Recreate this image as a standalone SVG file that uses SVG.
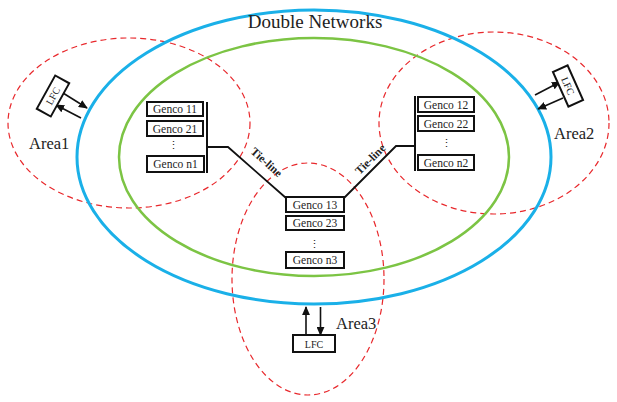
<svg xmlns="http://www.w3.org/2000/svg" width="617" height="402" viewBox="0 0 617 402">
<defs>
<marker id="ah" viewBox="0 0 10 10" refX="9" refY="5" markerWidth="9" markerHeight="8" preserveAspectRatio="none" orient="auto" markerUnits="userSpaceOnUse">
<path d="M0,0 L10,5 L0,10 z" fill="#111"/>
</marker>
</defs>
<style>
.t{font-family:"Liberation Serif","Times New Roman",serif;fill:#222}
.g{font-size:11.5px;text-anchor:middle}
.box{fill:#fff;stroke:#111;stroke-width:2}
.bar{stroke:#111;stroke-width:2;fill:none}
.line{stroke:#111;stroke-width:1.8;fill:none}
.arr{stroke:#111;stroke-width:1.6;fill:none;marker-end:url(#ah)}
.area{fill:none;stroke:#e8282c;stroke-width:1.2;stroke-dasharray:6,4}
.dots{font-size:11px;text-anchor:middle}
.tie{font-size:11.5px;font-weight:bold;text-anchor:middle}
</style>
<rect width="617" height="402" fill="#fff"/>
<g id="areas">
<ellipse id="area1-ring" cx="129" cy="123" rx="121" ry="85" class="area"/>
<ellipse id="area2-ring" cx="494" cy="123" rx="115" ry="91" class="area"/>
<ellipse id="area3-ring" cx="308" cy="279" rx="76" ry="116" class="area"/>
</g>
<g id="double-networks">
<ellipse cx="314" cy="157" rx="237" ry="147" fill="none" stroke="#1ab0e8" stroke-width="3"/>
<ellipse cx="314" cy="157" rx="195" ry="119" fill="none" stroke="#7cc444" stroke-width="2.5"/>
<text class="t" font-family="Liberation Serif, serif" x="315" y="28" font-size="19" text-anchor="middle">Double Networks</text>
</g>
<g id="connectors">
<polyline class="line" points="207,147 228,147 286,198"/>
<polyline class="line" points="344,198 396,146 415,146"/>
<line class="bar" x1="207" y1="102" x2="207" y2="173"/>
<line class="bar" x1="415" y1="96" x2="415" y2="171"/>
<line class="arr" x1="63" y1="93" x2="87" y2="108"/>
<line class="arr" x1="81" y1="118" x2="56" y2="105"/>
<line class="arr" x1="535" y1="95" x2="560" y2="82"/>
<line class="arr" x1="563" y1="98" x2="538" y2="109"/>
<line class="arr" x1="306" y1="335" x2="306" y2="307"/>
<line class="arr" x1="320.5" y1="307" x2="320.5" y2="335"/>
<text class="t tie" transform="translate(264,165) rotate(42)">Tie-line</text>
<text class="t tie" transform="translate(373,162) rotate(-45)">Tie-line</text>
</g>
<g id="area1">
<g id="genco11"><rect class="box" x="147" y="102" width="56" height="14"/><text class="t g" x="175" y="113">Genco 11</text></g>
<g id="genco21"><rect class="box" x="147" y="121" width="56" height="15"/><text class="t g" x="175" y="132.5">Genco 21</text></g>
<text class="t dots" x="173" y="149">⋮</text>
<g id="gencon1"><rect class="box" x="147" y="156" width="57" height="16"/><text class="t g" x="175.5" y="168">Genco n1</text></g>
<g id="lfc1"><g transform="translate(53,96) rotate(-61)"><rect class="box" x="-19" y="-8" width="38" height="16"/><text class="t" x="0" y="3.5" font-size="10" text-anchor="middle">LFC</text></g></g>
<text class="t" x="29" y="149" font-size="16.5">Area1</text>
</g>
<g id="area2">
<g id="genco12"><rect class="box" x="418" y="97" width="56" height="15"/><text class="t g" x="446" y="108.5">Genco 12</text></g>
<g id="genco22"><rect class="box" x="418" y="116" width="56" height="15"/><text class="t g" x="446" y="127.5">Genco 22</text></g>
<text class="t dots" x="446" y="147">⋮</text>
<g id="gencon2"><rect class="box" x="418" y="155" width="56" height="15"/><text class="t g" x="446" y="166.5">Genco n2</text></g>
<g id="lfc2"><g transform="translate(568,86) rotate(66)"><rect class="box" x="-19" y="-8" width="38" height="16"/><text class="t" x="0" y="3.5" font-size="10" text-anchor="middle">LFC</text></g></g>
<text class="t" x="554" y="139" font-size="16.5">Area2</text>
</g>
<g id="area3">
<g id="genco13"><rect class="box" x="286" y="197" width="58" height="15"/><text class="t g" x="315" y="208.5">Genco 13</text></g>
<g id="genco23"><rect class="box" x="286" y="216" width="58" height="14"/><text class="t g" x="315" y="227">Genco 23</text></g>
<text class="t dots" x="314" y="248">⋮</text>
<g id="gencon3"><rect class="box" x="286" y="252" width="58" height="16"/><text class="t g" x="315" y="264">Genco n3</text></g>
<g id="lfc3"><rect class="box" x="293" y="335" width="42" height="17"/><text class="t" x="314" y="347.5" font-size="10" text-anchor="middle">LFC</text></g>
<text class="t" x="336" y="329" font-size="16.5">Area3</text>
</g>
</svg>
